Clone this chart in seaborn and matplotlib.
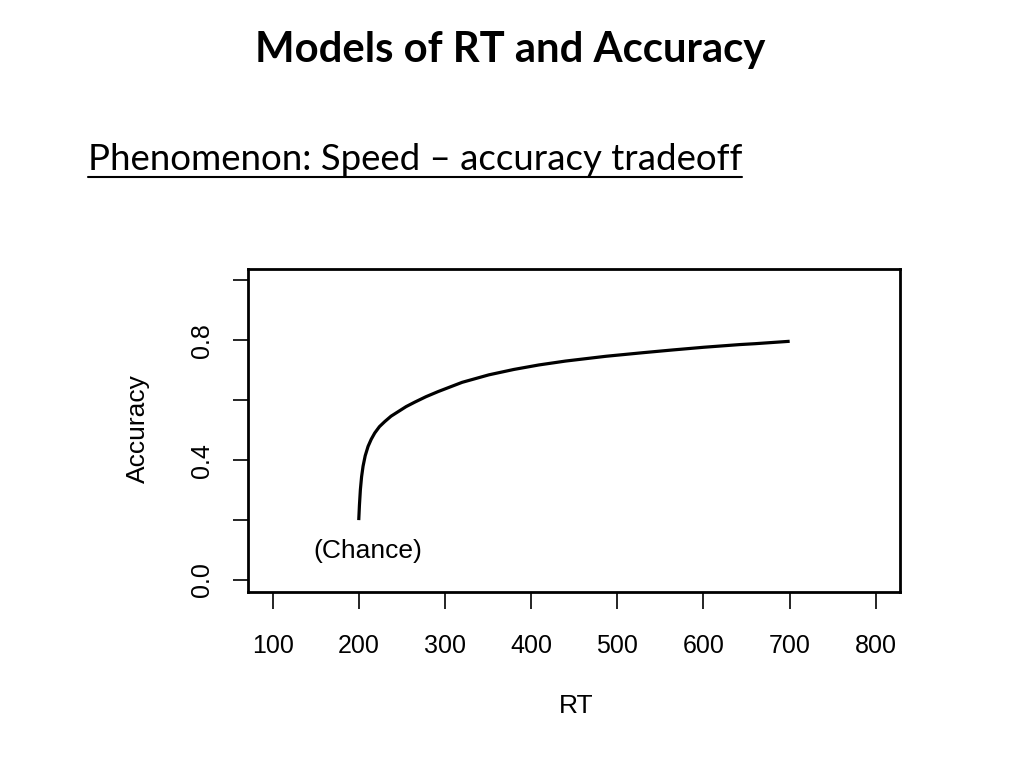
import matplotlib
matplotlib.use("Agg")
import matplotlib.pyplot as plt
import seaborn as sns
import pandas as pd
from matplotlib.lines import Line2D

# ---- data ----
rt_values = [200, 200.8, 201.9, 203.3, 205, 207.5, 210.8, 214.5, 218.6, 224, 230.2,
             237.5, 245.7, 255, 265.1, 278, 292, 320, 351, 380, 409, 440, 487, 530,
             564, 600, 642, 660, 700]
accuracy_values = [0.20, 0.25, 0.302, 0.345, 0.380, 0.415, 0.446, 0.470, 0.491, 0.512,
                   0.529, 0.547, 0.562, 0.579, 0.594, 0.612, 0.629, 0.660, 0.685,
                   0.703, 0.718, 0.731, 0.747, 0.759, 0.768, 0.777, 0.786, 0.789,
                   0.797]
x_ticks = [100, 200, 300, 400, 500, 600, 700, 800]
x_tick_labels = ["100", "200", "300", "400", "500", "600", "700", "800"]
y_ticks = [0.0, 0.2, 0.4, 0.6, 0.8, 1.0]
y_tick_labels = ["0.0", "", "0.4", "", "0.8", ""]
title_text = "Models of RT and Accuracy"
subtitle_text = "Phenomenon: Speed \u2013 accuracy tradeoff"
annotation_text = "(Chance)"
annotation_pos = (210, 0.097)

sns.set_theme(style="white")
plt.rcParams["font.family"] = ["Liberation Sans", "DejaVu Sans"]

W, H = 1024, 768
fig = plt.figure(figsize=(W / 100, H / 100), dpi=100)
fig.patch.set_facecolor("white")

ax = fig.add_axes([248 / W, 1 - 592 / H, (900 - 248) / W, (592 - 268.5) / H])
ax.set_facecolor("white")

df = pd.DataFrame({"RT": rt_values, "Accuracy": accuracy_values})
sns.lineplot(data=df, x="RT", y="Accuracy", ax=ax, color="black",
             linewidth=2.3, sort=False, estimator=None)
for ln in ax.get_lines():
    ln.set_solid_joinstyle("round")
    ln.set_solid_capstyle("butt")

ax.set_xlim(71.5, 828)
ax.set_ylim(-0.04, 1.04)
ax.set_xticks(x_ticks)
ax.set_xticklabels(x_tick_labels)
ax.set_yticks(y_ticks)
ax.set_yticklabels(y_tick_labels)

ax.tick_params(axis="x", which="major", bottom=True, direction="out", length=12.5,
               width=1.2, pad=17.5, labelsize=18, color="black", labelcolor="black")
ax.tick_params(axis="y", which="major", left=True, direction="out", length=10.8,
               width=1.2, pad=13.5, labelsize=18, color="black", labelcolor="black")
for lab in ax.get_yticklabels():
    lab.set_rotation(90)
    lab.set_va("center")

for s in ax.spines.values():
    s.set_visible(True)
    s.set_linewidth(2.0)
    s.set_color("black")
    s.set_capstyle("projecting")

ax.grid(False)
ax.set_xlabel("RT", fontsize=19, color="black", va="center")
ax.xaxis.set_label_coords((576 - 248) / 652, (592 - 706) / 323.5)
ax.set_ylabel("Accuracy", fontsize=19, color="black", va="center")
ax.yaxis.set_label_coords((138 - 248) / 652, (592 - 429) / 323.5)

ax.text(annotation_pos[0], annotation_pos[1], annotation_text, ha="center",
        va="center", fontsize=19, color="black")

# ---- slide title and subtitle ----
title = fig.text(510 / W, 1 - 62.3 / H, title_text, ha="center", va="baseline",
                 fontfamily=["Lato", "DejaVu Sans"], fontweight="bold",
                 fontsize=30, color="black")
subtitle = fig.text(88 / W, 1 - 170 / H, subtitle_text, ha="left", va="baseline",
                    fontfamily=["Lato", "DejaVu Sans"], fontsize=25, color="black")

renderer = fig.canvas.get_renderer()


def fit_width(t, target):
    for _ in range(3):
        bb = t.get_window_extent(renderer=renderer)
        t.set_fontsize(t.get_fontsize() * target / bb.width)


fit_width(title, 510)
fit_width(subtitle, 654)

bb = subtitle.get_window_extent(renderer=renderer)
uy = 1 - 176.7 / H
fig.add_artist(Line2D([bb.x0 / W, bb.x1 / W], [uy, uy], transform=fig.transFigure,
                      color="black", linewidth=1.5))

fig.savefig("out.png", dpi=100, facecolor="white")
